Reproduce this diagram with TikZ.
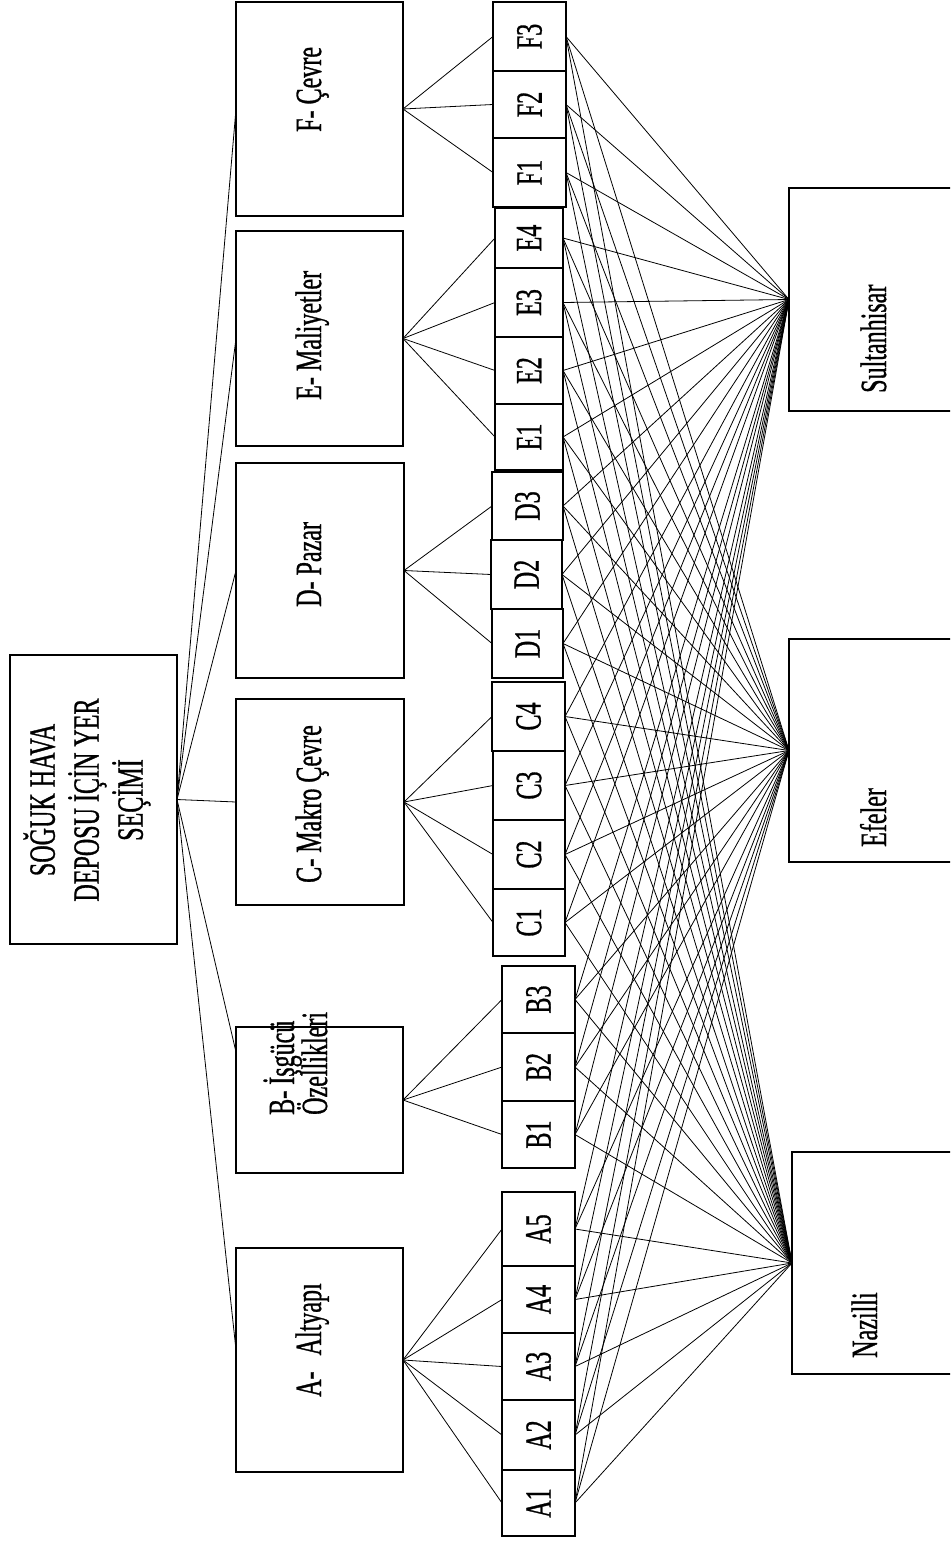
\documentclass[tikz,border=0pt]{standalone}
\usepackage{fontspec}
\setmainfont{Liberation Serif}[FakeStretch=0.65, FakeBold=0.8]
\usetikzlibrary{calc}

% box from its corners: name, x1, y1, x2, y2 (y grows downward)
\newcommand{\cbox}[5]{%
  \node[box, minimum width={#4-#2}, minimum height={#5-#3}] (#1)
    at ({(#2+#4)/2},{(#3+#5)/2}) {};}

\begin{document}
\begin{tikzpicture}[x=1pt,y=-1pt,
  every node/.style={font=\fontsize{37}{44}\selectfont},
  box/.style={draw, line width=1.4pt, inner sep=0pt, outer sep=0pt},
  link/.style={line width=0.8pt},
  crit/.style={rotate=90, anchor=base west, inner sep=0pt},
  sub/.style={rotate=90, inner sep=0pt}]

\clip (0,0) rectangle (950,1541);

% goal
\cbox{goal}{10}{655}{177}{944}
\node[rotate=90, align=center, inner sep=0pt] (tgoal) at (87,800)
  {SOĞUK HAVA\\DEPOSU İÇİN YER\\SEÇİMİ};

% criteria
\cbox{F}{236}{2}{403}{216}
\cbox{E}{236}{231}{403}{446}
\cbox{D}{236}{463}{404}{678}
\cbox{C}{236}{699}{404}{905}
\cbox{B}{236}{1027}{403}{1173}
\cbox{A}{236}{1248}{403}{1472}

\node[crit] (tF) at (321,132) {F- Çevre};
\node[crit] (tE) at (321,400) {E- Maliyetler};
\node[crit] (tD) at (321,607) {D- Pazar};
\node[crit] (tC) at (321,883) {C- Makro Çevre};
\node[crit] (tB1) at (294,1115) {B- İşgücü};
\node[crit] (tB2) at (327,1115) {Özellikleri};
\node[crit] (tA) at (321,1397) {A-\hspace{10pt} Altyapı};

% sub-criteria
\cbox{F3}{493}{2}{566}{71}
\cbox{F2}{493}{71}{566}{138}
\cbox{F1}{493}{138}{566}{207}
\cbox{E4}{495}{208}{563}{268}
\cbox{E3}{495}{268}{563}{337}
\cbox{E2}{495}{337}{563}{404}
\cbox{E1}{495}{404}{563}{470}
\cbox{D3}{492}{472}{563}{540}
\cbox{D2}{491}{540}{562}{609}
\cbox{D1}{492}{609}{563}{678}
\cbox{C4}{492}{682}{565}{751}
\cbox{C3}{493}{751}{565}{820}
\cbox{C2}{493}{820}{565}{889}
\cbox{C1}{493}{889}{565}{956}
\cbox{B3}{502}{966}{575}{1033}
\cbox{B2}{502}{1033}{575}{1101}
\cbox{B1}{502}{1101}{575}{1168}
\cbox{A5}{502}{1192}{575}{1266}
\cbox{A4}{502}{1266}{575}{1333}
\cbox{A3}{502}{1333}{575}{1400}
\cbox{A2}{502}{1400}{575}{1470}
\cbox{A1}{502}{1470}{575}{1536}

\foreach \s in {A1,A2,A3,A4,A5,B1,B2,B3,C1,C2,C3,C4,D1,D2,D3,E1,E2,E3,E4,F1,F2,F3}
  \node[sub] (t\s) at (\s) {\s};

% alternatives
\cbox{Sul}{789}{188}{965}{411}
\cbox{Efe}{789}{639}{965}{862}
\cbox{Naz}{792}{1152}{965}{1374}
\node[crit] (tSul) at (886,393) {Sultanhisar};
\node[crit] (tEfe) at (886,847) {Efeler};
\node[crit] (tNaz) at (877,1358) {Nazilli};

% goal to criteria
\foreach \c in {C,D,E,F}
  \draw[link] (goal.east) -- (\c.west);
\draw[link] (goal.east) -- ($(B.west)+(0,-48)$);
\draw[link] (goal.east) -- ($(A.west)+(0,-10)$);

% criteria to sub-criteria
\foreach \s in {A1,A2,A3,A4,A5} \draw[link] (A.east) -- (\s.west);
\foreach \s in {B1,B2,B3} \draw[link] (B.east) -- (\s.west);
\foreach \s in {C1,C2,C3,C4} \draw[link] (C.east) -- (\s.west);
\foreach \s in {D1,D2,D3} \draw[link] (D.east) -- (\s.west);
\foreach \s in {E1,E2,E3,E4} \draw[link] (E.east) -- (\s.west);
\foreach \s in {F1,F2,F3} \draw[link] (F.east) -- (\s.west);

% sub-criteria to alternatives
\foreach \s in {A1,A2,A3,A4,A5,B1,B2,B3,C1,C2,C3,C4,D1,D2,D3,E1,E2,E3,E4,F1,F2,F3}
  \foreach \a in {Sul,Efe,Naz}
    \draw[link] (\s.east) -- (\a.west);

\end{tikzpicture}
\end{document}
